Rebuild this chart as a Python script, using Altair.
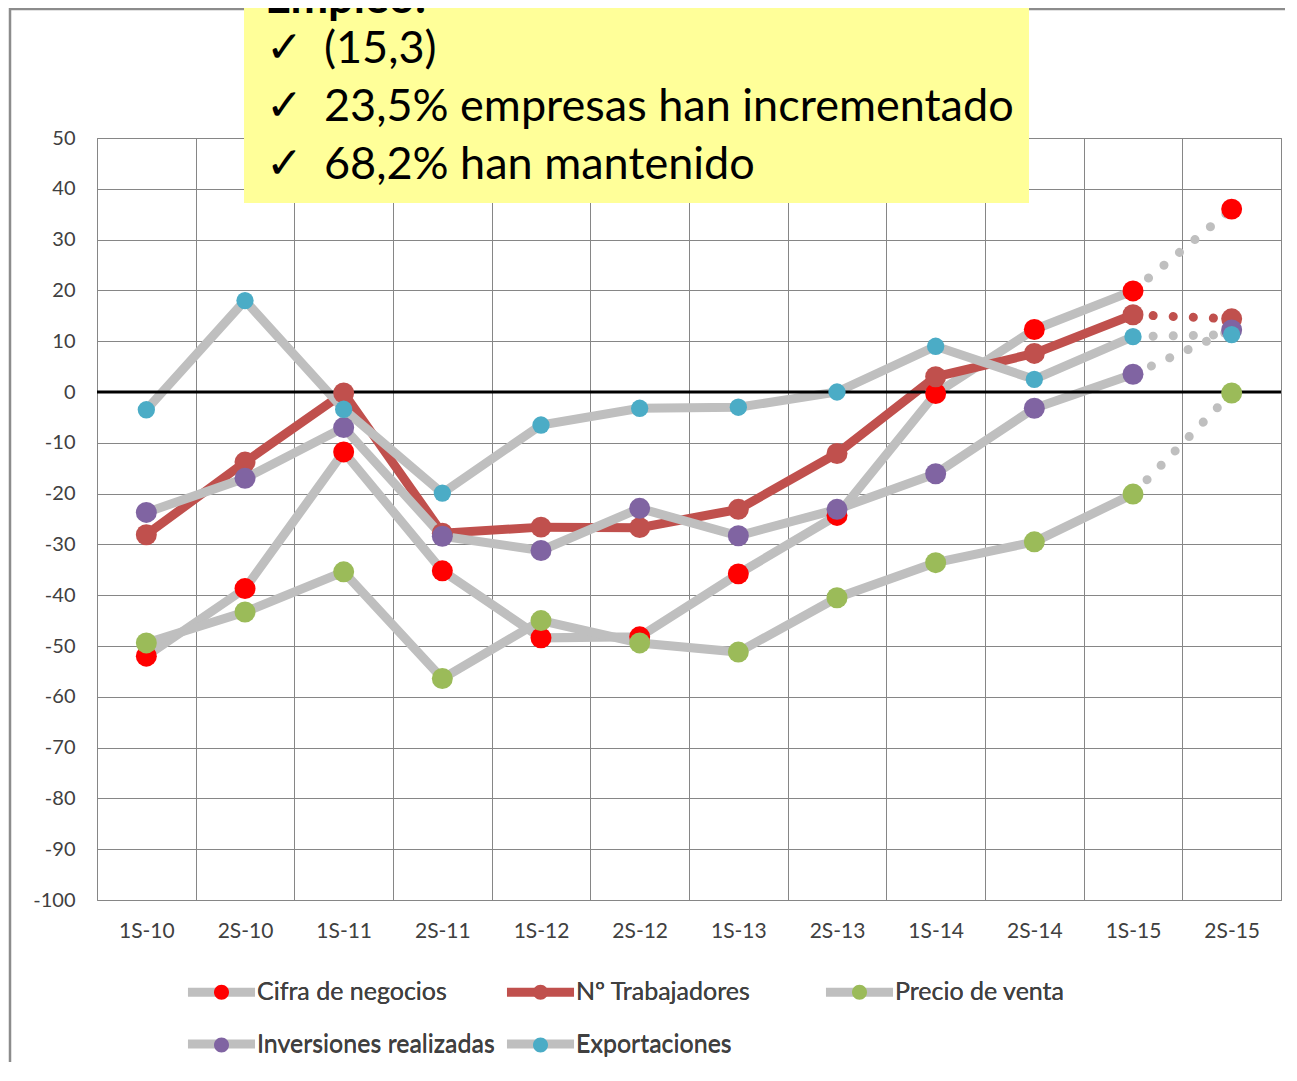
import altair as alt
import pandas as pd

periods = ["1S-10", "2S-10", "1S-11", "2S-11", "1S-12", "2S-12",
           "1S-13", "2S-13", "1S-14", "2S-14", "1S-15", "2S-15"]
series_names = ["Cifra de negocios", "Nº Trabajadores", "Precio de venta",
                "Inversiones realizadas", "Exportaciones"]
cifra = [-52, -38.7, -11.8, -35.2, -48.4, -48.2, -35.8, -24.3, -0.3, 12.3, 19.9, 36.0]
trabajadores = [-28.1, -13.8, -0.2, -27.8, -26.6, -26.7, -23.1, -12.1, 3.0, 7.6, 15.2, 14.4]
precio = [-49.4, -43.3, -35.4, -56.4, -45.0, -49.4, -51.2, -40.5, -33.6, -29.5, -20.1, -0.2]
inversiones = [-23.7, -17.0, -7.0, -28.4, -31.2, -22.9, -28.3, -23.1, -16.1, -3.2, 3.5, 12.2]
exportaciones = [-3.5, 18.0, -3.4, -19.9, -6.5, -3.2, -3.0, 0.0, 9.0, 2.5, 10.9, 11.3]
y_ticks = list(range(-100, 51, 10))
note_title = "Empleo:"
note_lines = ["(15,3)", "23,5% empresas han incrementado", "68,2% han mantenido"]

values = [cifra, trabajadores, precio, inversiones, exportaciones]
rows = []
for name, vals in zip(series_names, values):
    for i, (p, v) in enumerate(zip(periods, vals)):
        rows.append({"series": name, "serie": name, "period": p, "idx": i, "value": v})
df = pd.DataFrame(rows)
solid = df[df["idx"] <= 10]
dotted = df[df["idx"] >= 10]

line_range = ["#BFBFBF", "#C0504D", "#BFBFBF", "#BFBFBF", "#BFBFBF"]
dot_range = ["#FF0000", "#C0504D", "#9BBB59", "#8064A2", "#4BACC6"]
GRID = "#868686"
FONT = "Lato"

x_enc = alt.X("period:N", sort=periods,
              scale=alt.Scale(type="band", domain=periods, paddingInner=0, paddingOuter=0),
              axis=alt.Axis(title=None, tickBand="extent", labelAngle=0, labelFont=FONT,
                            labelFontSize=21, labelColor="#404040", labelPadding=20,
                            domain=False, ticks=False, grid=True, gridColor=GRID, gridWidth=1))
y_enc = alt.Y("value:Q", scale=alt.Scale(domain=[-100, 50], nice=False, zero=False),
              axis=alt.Axis(title=None, values=y_ticks, labelFont=FONT, labelFontSize=20,
                            labelExpr="'' + datum.value",
                            labelColor="#404040", labelPadding=22, ticks=False, domain=False,
                            grid=True, gridColor=GRID, gridWidth=1))

# both legends share the same symbol extent (move-to corners) so their grids line up
EXTENT = "M-1.49,-0.3M1.49,0.3"
LEG_X = 97.5
LEG_Y = 827
common_leg = dict(orient="none", legendX=LEG_X, legendY=LEG_Y, columns=3, title=None,
                  direction="horizontal", symbolSize=2025, symbolStrokeWidth=9,
                  labelFont=FONT, labelFontSize=25, labelColor="#404040", labelLimit=500,
                  gridAlign="all", columnPadding=-7, rowPadding=0, labelOffset=8.5)
line_legend = alt.Legend(symbolType=EXTENT + "M-1.49,0H1.49", **common_leg)
dot_legend = alt.Legend(symbolType=EXTENT + "M0.333,0A0.333,0.333,0,1,1,-0.333,0A0.333,0.333,0,1,1,0.333,0Z",
                        symbolStrokeColor="transparent", **common_leg)

lines = alt.Chart(solid).mark_line(strokeWidth=9).encode(
    x=x_enc, y=y_enc,
    color=alt.Color("series:N", sort=series_names,
                    scale=alt.Scale(domain=series_names, range=line_range), legend=line_legend),
    order="idx:Q",
)
dots_line = alt.Chart(dotted).mark_line(strokeWidth=9, strokeDash=[0.1, 20], strokeCap="round").encode(
    x=x_enc, y=y_enc,
    stroke=alt.Stroke("serie:N", sort=series_names,
                      scale=alt.Scale(range=line_range), legend=None),
    order="idx:Q",
)
zero = alt.Chart(pd.DataFrame({"z": [0]})).mark_rule(color="black", strokeWidth=3).encode(
    y=alt.datum(0))
fill_enc = alt.Fill("serie:N", sort=series_names, scale=alt.Scale(range=dot_range), legend=dot_legend)
pts_big = alt.Chart(df[df["series"] != "Exportaciones"]).mark_point(
    filled=True, size=440, opacity=1, strokeWidth=0).encode(
    x=x_enc, y=y_enc, fill=fill_enc)
pts_small = alt.Chart(df[df["series"] == "Exportaciones"]).mark_point(
    filled=True, size=300, opacity=1, strokeWidth=0).encode(
    x=x_enc, y=y_enc, fill=fill_enc)

one = pd.DataFrame({"a": [0]})
frame = alt.Chart(one).mark_rect(fill="transparent", stroke="#8C8C8C", strokeWidth=2.5).encode(
    x=alt.value(-87), x2=alt.value(1400), y=alt.value(-129), y2=alt.value(1200))
box = alt.Chart(one).mark_rect(color="#FFFF99").encode(
    x=alt.value(147), x2=alt.value(932), y=alt.value(-140), y2=alt.value(65))
title_txt = alt.Chart(one).mark_text(align="left", baseline="alphabetic", font=FONT,
                                     fontSize=45, fontWeight="bold", color="black").encode(
    x=alt.value(168), y=alt.value(-125), text=alt.value(note_title))
checks = alt.Chart(one).mark_text(align="left", baseline="alphabetic", font="DejaVu Sans",
                                  fontSize=44, fontWeight="bold", lineHeight=58, color="black").encode(
    x=alt.value(169), y=alt.value(-76), text=alt.value(["✓", "✓", "✓"]))
body = alt.Chart(one).mark_text(align="left", baseline="alphabetic", font=FONT,
                                fontSize=45, lineHeight=58, color="black").encode(
    x=alt.value(227), y=alt.value(-75), text=alt.value(note_lines))

chart = alt.layer(frame, lines, dots_line, zero, pts_big, pts_small, box, title_txt, checks, body).properties(
    width=1184, height=762,
    autosize=alt.AutoSizeParams(type="none"),
    padding={"left": 89, "top": 130, "right": 4, "bottom": 162},
).configure_view(stroke=GRID, strokeWidth=1)

chart.save("out.html", embed_options={"renderer": "svg", "actions": False})
